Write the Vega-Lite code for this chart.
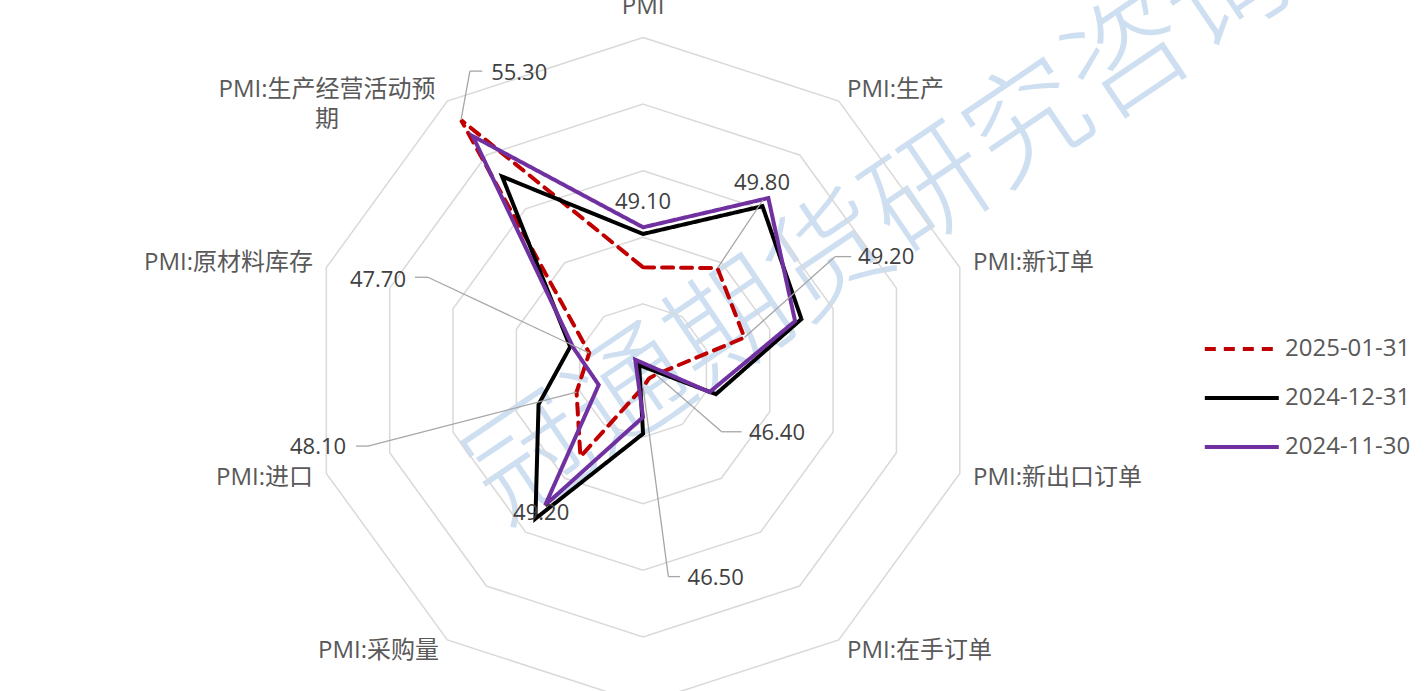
{
  "$schema": "https://vega.github.io/schema/vega-lite/v6.json",
  "width": 1425,
  "height": 691,
  "autosize": {"type": "none"},
  "padding": 0,
  "background": "white",
  "config": {"view": {"stroke": null}, "text": {"font": "Open Sans, Noto Sans CJK SC, sans-serif"}},
  "layer": [
    {
      "data": {"values": [{}]},
      "mark": {"type": "text", "text": "冠通期货研究咨询", "font": "Noto Sans CJK SC", "fontSize": 120, "fontWeight": 200, "angle": -34, "color": "#c2d8ee", "opacity": 0.8, "align": "center", "baseline": "middle", "clip": true},
      "encoding": {
        "x": {"datum": 7.15, "type": "quantitative", "scale": {"domain": [-19.31, 23.48], "nice": false, "zero": false}, "axis": null},
        "y": {"datum": 4.3, "type": "quantitative", "scale": {"domain": [-9.625, 11.126], "nice": false, "zero": false}, "axis": null}
      }
    },
    {
      "data": {"values": [
        {"level": 48, "spoke": [1, 2, 3, 4, 5, 6, 7, 8, 9, 10]},
        {"level": 50, "spoke": [1, 2, 3, 4, 5, 6, 7, 8, 9, 10]},
        {"level": 52, "spoke": [1, 2, 3, 4, 5, 6, 7, 8, 9, 10]},
        {"level": 54, "spoke": [1, 2, 3, 4, 5, 6, 7, 8, 9, 10]},
        {"level": 56, "spoke": [1, 2, 3, 4, 5, 6, 7, 8, 9, 10]}
      ]},
      "transform": [
        {"flatten": ["spoke"]},
        {"calculate": "(datum.spoke - 1) * PI / 5", "as": "theta"},
        {"calculate": "(datum.level - 46) * sin(datum.theta)", "as": "gx"},
        {"calculate": "(datum.level - 46) * cos(datum.theta)", "as": "gy"}
      ],
      "mark": {"type": "line", "interpolate": "linear-closed", "stroke": "#d9d9d9", "strokeWidth": 1.5},
      "encoding": {
        "x": {"field": "gx", "type": "quantitative", "scale": {"domain": [-19.31, 23.48], "nice": false, "zero": false}, "axis": null},
        "y": {"field": "gy", "type": "quantitative", "scale": {"domain": [-9.625, 11.126], "nice": false, "zero": false}, "axis": null},
        "detail": {"field": "level", "type": "nominal"},
        "order": {"field": "spoke", "type": "quantitative"}
      }
    },
    {
      "data": {"values": [
        {"axis": "PMI", "2025-01-31": 49.1, "2024-12-31": 50.1, "2024-11-30": 50.3},
        {"axis": "PMI:生产", "2025-01-31": 49.8, "2024-12-31": 52.1, "2024-11-30": 52.4},
        {"axis": "PMI:新订单", "2025-01-31": 49.2, "2024-12-31": 51.0, "2024-11-30": 50.8},
        {"axis": "PMI:新出口订单", "2025-01-31": 46.4, "2024-12-31": 48.3, "2024-11-30": 48.1},
        {"axis": "PMI:在手订单", "2025-01-31": 46.3, "2024-12-31": 45.8, "2024-11-30": 45.6},
        {"axis": "PMI:产成品库存", "2025-01-31": 46.5, "2024-12-31": 47.9, "2024-11-30": 47.4},
        {"axis": "PMI:采购量", "2025-01-31": 49.2, "2024-12-31": 51.5, "2024-11-30": 51.0},
        {"axis": "PMI:进口", "2025-01-31": 48.1, "2024-12-31": 49.3, "2024-11-30": 47.4},
        {"axis": "PMI:原材料库存", "2025-01-31": 47.7, "2024-12-31": 48.3, "2024-11-30": 48.2},
        {"axis": "PMI:生产经营活动预期", "2025-01-31": 55.3, "2024-12-31": 53.2, "2024-11-30": 54.7}
      ]},
      "transform": [
        {"window": [{"op": "row_number", "as": "k"}]},
        {"fold": ["2025-01-31", "2024-12-31", "2024-11-30"], "as": ["series", "value"]},
        {"calculate": "(datum.k - 1) * PI / 5", "as": "theta"},
        {"calculate": "(datum.value - 46) * sin(datum.theta)", "as": "x"},
        {"calculate": "(datum.value - 46) * cos(datum.theta)", "as": "y"}
      ],
      "layer": [
        {
          "encoding": {
            "x": {"field": "x", "type": "quantitative", "scale": {"domain": [-19.31, 23.48], "nice": false, "zero": false}, "axis": null},
            "y": {"field": "y", "type": "quantitative", "scale": {"domain": [-9.625, 11.126], "nice": false, "zero": false}, "axis": null},
            "order": {"field": "k", "type": "quantitative"},
            "color": {"field": "series", "type": "nominal", "scale": {"domain": ["2025-01-31", "2024-12-31", "2024-11-30"], "range": ["#c00000", "#000000", "#7030a0"]},
              "legend": {"orient": "none", "legendX": 1247, "legendY": 332, "title": null, "symbolType": "M-4,0H1", "symbolSize": 876, "symbolStrokeWidth": 4, "labelFontSize": 24, "labelColor": "#595959", "labelFont": "Open Sans", "labelOffset": 4, "rowPadding": 20, "padding": 0, "labelLimit": 300}},
            "strokeDash": {"field": "series", "type": "nominal", "scale": {"domain": ["2025-01-31", "2024-12-31", "2024-11-30"], "range": [[11, 8], [1, 0], [1, 0]]},
              "legend": {"orient": "none", "legendX": 1247, "legendY": 332, "title": null, "symbolType": "M-4,0H1", "symbolSize": 876, "symbolStrokeWidth": 4, "labelFontSize": 24, "labelColor": "#595959", "labelFont": "Open Sans", "labelOffset": 4, "rowPadding": 20, "padding": 0, "labelLimit": 300}}
          },
          "layer": [
            {"transform": [{"filter": "datum.series === '2025-01-31'"}], "mark": {"type": "line", "interpolate": "linear-closed", "strokeWidth": 4, "strokeCap": "round"}},
            {"transform": [{"filter": "datum.series === '2024-12-31'"}], "mark": {"type": "line", "interpolate": "linear-closed", "strokeWidth": 4}},
            {"transform": [{"filter": "datum.series === '2024-11-30'"}], "mark": {"type": "line", "interpolate": "linear-closed", "strokeWidth": 4}}
          ]
        },
        {
          "transform": [
            {"filter": "datum.series === '2025-01-31'"},
            {"calculate": "10.42 * sin(datum.theta)", "as": "lx"},
            {"calculate": "10.42 * cos(datum.theta)", "as": "ly"},
            {"calculate": "replace(datum.axis, '预期', '预\\n期')", "as": "lab"}
          ],
          "encoding": {
            "x": {"field": "lx", "type": "quantitative", "scale": {"domain": [-19.31, 23.48], "nice": false, "zero": false}, "axis": null},
            "y": {"field": "ly", "type": "quantitative", "scale": {"domain": [-9.625, 11.126], "nice": false, "zero": false}, "axis": null},
            "text": {"field": "lab", "type": "nominal"}
          },
          "layer": [
            {"transform": [{"filter": "datum.k >= 2 && datum.k <= 5"}], "mark": {"type": "text", "align": "left", "baseline": "middle", "fontSize": 24, "color": "#595959"}},
            {"transform": [{"filter": "datum.k >= 7 && datum.k <= 9"}], "mark": {"type": "text", "align": "right", "baseline": "middle", "fontSize": 24, "color": "#595959"}},
            {"transform": [{"filter": "datum.k === 1"}], "mark": {"type": "text", "align": "center", "baseline": "alphabetic", "dy": -10, "fontSize": 24, "color": "#595959"}},
            {"transform": [{"filter": "datum.k === 6"}], "mark": {"type": "text", "align": "center", "baseline": "top", "fontSize": 24, "color": "#595959"}},
            {"transform": [{"filter": "datum.k === 10"}], "mark": {"type": "text", "align": "center", "baseline": "middle", "dx": -112, "lineBreak": "\n", "lineHeight": 30, "fontSize": 24, "color": "#595959"}}
          ]
        },
        {
          "transform": [{"filter": "datum.series === '2025-01-31' && datum.k === 10"}],
          "layer": [
            {"mark": {"type": "rule", "color": "#a6a6a6", "strokeWidth": 1.3}, "encoding": {
              "x": {"field": "x", "type": "quantitative", "scale": {"domain": [-19.31, 23.48], "nice": false, "zero": false}, "axis": null},
              "y": {"field": "y", "type": "quantitative", "scale": {"domain": [-9.625, 11.126], "nice": false, "zero": false}, "axis": null},
              "x2": {"datum": -5.20}, "y2": {"datum": 8.99}}},
            {"mark": {"type": "rule", "color": "#a6a6a6", "strokeWidth": 1.3}, "encoding": {
              "x": {"datum": -5.20, "type": "quantitative", "scale": {"domain": [-19.31, 23.48], "nice": false, "zero": false}, "axis": null},
              "y": {"datum": 8.99, "type": "quantitative", "scale": {"domain": [-9.625, 11.126], "nice": false, "zero": false}, "axis": null},
              "x2": {"datum": -4.83}, "y2": {"datum": 8.99}}},
            {"mark": {"type": "text", "fontSize": 22, "color": "#404040", "align": "center", "baseline": "middle"}, "encoding": {
              "x": {"datum": -3.72, "type": "quantitative", "scale": {"domain": [-19.31, 23.48], "nice": false, "zero": false}, "axis": null},
              "y": {"datum": 8.93, "type": "quantitative", "scale": {"domain": [-9.625, 11.126], "nice": false, "zero": false}, "axis": null},
              "text": {"field": "value", "type": "quantitative", "format": ".2f"}}}
          ]
        },
        {
          "transform": [{"filter": "datum.series === '2025-01-31' && datum.k === 1"}],
          "mark": {"type": "text", "fontSize": 22, "color": "#404040", "align": "center", "baseline": "middle"},
          "encoding": {
            "x": {"datum": 0, "type": "quantitative", "scale": {"domain": [-19.31, 23.48], "nice": false, "zero": false}, "axis": null},
            "y": {"datum": 5.06, "type": "quantitative", "scale": {"domain": [-9.625, 11.126], "nice": false, "zero": false}, "axis": null},
            "text": {"field": "value", "type": "quantitative", "format": ".2f"}}
        },
        {
          "transform": [{"filter": "datum.series === '2025-01-31' && datum.k === 2"}],
          "layer": [
            {"mark": {"type": "rule", "color": "#a6a6a6", "strokeWidth": 1.3}, "encoding": {
              "x": {"field": "x", "type": "quantitative", "scale": {"domain": [-19.31, 23.48], "nice": false, "zero": false}, "axis": null},
              "y": {"field": "y", "type": "quantitative", "scale": {"domain": [-9.625, 11.126], "nice": false, "zero": false}, "axis": null},
              "x2": {"datum": 3.60}, "y2": {"datum": 5.12}}},
            {"mark": {"type": "text", "fontSize": 22, "color": "#404040", "align": "center", "baseline": "middle"}, "encoding": {
              "x": {"datum": 3.57, "type": "quantitative", "scale": {"domain": [-19.31, 23.48], "nice": false, "zero": false}, "axis": null},
              "y": {"datum": 5.63, "type": "quantitative", "scale": {"domain": [-9.625, 11.126], "nice": false, "zero": false}, "axis": null},
              "text": {"field": "value", "type": "quantitative", "format": ".2f"}}}
          ]
        },
        {
          "transform": [{"filter": "datum.series === '2025-01-31' && datum.k === 3"}],
          "layer": [
            {"mark": {"type": "rule", "color": "#a6a6a6", "strokeWidth": 1.3}, "encoding": {
              "x": {"field": "x", "type": "quantitative", "scale": {"domain": [-19.31, 23.48], "nice": false, "zero": false}, "axis": null},
              "y": {"field": "y", "type": "quantitative", "scale": {"domain": [-9.625, 11.126], "nice": false, "zero": false}, "axis": null},
              "x2": {"datum": 5.77}, "y2": {"datum": 3.42}}},
            {"mark": {"type": "rule", "color": "#a6a6a6", "strokeWidth": 1.3}, "encoding": {
              "x": {"datum": 5.77, "type": "quantitative", "scale": {"domain": [-19.31, 23.48], "nice": false, "zero": false}, "axis": null},
              "y": {"datum": 3.42, "type": "quantitative", "scale": {"domain": [-9.625, 11.126], "nice": false, "zero": false}, "axis": null},
              "x2": {"datum": 6.25}, "y2": {"datum": 3.42}}},
            {"mark": {"type": "text", "fontSize": 22, "color": "#404040", "align": "center", "baseline": "middle"}, "encoding": {
              "x": {"datum": 7.30, "type": "quantitative", "scale": {"domain": [-19.31, 23.48], "nice": false, "zero": false}, "axis": null},
              "y": {"datum": 3.41, "type": "quantitative", "scale": {"domain": [-9.625, 11.126], "nice": false, "zero": false}, "axis": null},
              "text": {"field": "value", "type": "quantitative", "format": ".2f"}}}
          ]
        },
        {
          "transform": [{"filter": "datum.series === '2025-01-31' && datum.k === 4"}],
          "layer": [
            {"mark": {"type": "rule", "color": "#a6a6a6", "strokeWidth": 1.3}, "encoding": {
              "x": {"field": "x", "type": "quantitative", "scale": {"domain": [-19.31, 23.48], "nice": false, "zero": false}, "axis": null},
              "y": {"field": "y", "type": "quantitative", "scale": {"domain": [-9.625, 11.126], "nice": false, "zero": false}, "axis": null},
              "x2": {"datum": 2.36}, "y2": {"datum": -1.84}}},
            {"mark": {"type": "rule", "color": "#a6a6a6", "strokeWidth": 1.3}, "encoding": {
              "x": {"datum": 2.36, "type": "quantitative", "scale": {"domain": [-19.31, 23.48], "nice": false, "zero": false}, "axis": null},
              "y": {"datum": -1.84, "type": "quantitative", "scale": {"domain": [-9.625, 11.126], "nice": false, "zero": false}, "axis": null},
              "x2": {"datum": 2.96}, "y2": {"datum": -1.84}}},
            {"mark": {"type": "text", "fontSize": 22, "color": "#404040", "align": "center", "baseline": "middle"}, "encoding": {
              "x": {"datum": 4.02, "type": "quantitative", "scale": {"domain": [-19.31, 23.48], "nice": false, "zero": false}, "axis": null},
              "y": {"datum": -1.88, "type": "quantitative", "scale": {"domain": [-9.625, 11.126], "nice": false, "zero": false}, "axis": null},
              "text": {"field": "value", "type": "quantitative", "format": ".2f"}}}
          ]
        },
        {
          "transform": [{"filter": "datum.series === '2025-01-31' && datum.k === 6"}],
          "layer": [
            {"mark": {"type": "rule", "color": "#a6a6a6", "strokeWidth": 1.3}, "encoding": {
              "x": {"field": "x", "type": "quantitative", "scale": {"domain": [-19.31, 23.48], "nice": false, "zero": false}, "axis": null},
              "y": {"field": "y", "type": "quantitative", "scale": {"domain": [-9.625, 11.126], "nice": false, "zero": false}, "axis": null},
              "x2": {"datum": 0.76}, "y2": {"datum": -6.19}}},
            {"mark": {"type": "rule", "color": "#a6a6a6", "strokeWidth": 1.3}, "encoding": {
              "x": {"datum": 0.76, "type": "quantitative", "scale": {"domain": [-19.31, 23.48], "nice": false, "zero": false}, "axis": null},
              "y": {"datum": -6.19, "type": "quantitative", "scale": {"domain": [-9.625, 11.126], "nice": false, "zero": false}, "axis": null},
              "x2": {"datum": 1.11}, "y2": {"datum": -6.19}}},
            {"mark": {"type": "text", "fontSize": 22, "color": "#404040", "align": "center", "baseline": "middle"}, "encoding": {
              "x": {"datum": 2.18, "type": "quantitative", "scale": {"domain": [-19.31, 23.48], "nice": false, "zero": false}, "axis": null},
              "y": {"datum": -6.24, "type": "quantitative", "scale": {"domain": [-9.625, 11.126], "nice": false, "zero": false}, "axis": null},
              "text": {"field": "value", "type": "quantitative", "format": ".2f"}}}
          ]
        },
        {
          "transform": [{"filter": "datum.series === '2025-01-31' && datum.k === 7"}],
          "mark": {"type": "text", "fontSize": 22, "color": "#404040", "align": "center", "baseline": "middle"},
          "encoding": {
            "x": {"datum": -3.06, "type": "quantitative", "scale": {"domain": [-19.31, 23.48], "nice": false, "zero": false}, "axis": null},
            "y": {"datum": -4.29, "type": "quantitative", "scale": {"domain": [-9.625, 11.126], "nice": false, "zero": false}, "axis": null},
            "text": {"field": "value", "type": "quantitative", "format": ".2f"}}
        },
        {
          "transform": [{"filter": "datum.series === '2025-01-31' && datum.k === 8"}],
          "layer": [
            {"mark": {"type": "rule", "color": "#a6a6a6", "strokeWidth": 1.3}, "encoding": {
              "x": {"field": "x", "type": "quantitative", "scale": {"domain": [-19.31, 23.48], "nice": false, "zero": false}, "axis": null},
              "y": {"field": "y", "type": "quantitative", "scale": {"domain": [-9.625, 11.126], "nice": false, "zero": false}, "axis": null},
              "x2": {"datum": -8.26}, "y2": {"datum": -2.27}}},
            {"mark": {"type": "rule", "color": "#a6a6a6", "strokeWidth": 1.3}, "encoding": {
              "x": {"datum": -8.26, "type": "quantitative", "scale": {"domain": [-19.31, 23.48], "nice": false, "zero": false}, "axis": null},
              "y": {"datum": -2.27, "type": "quantitative", "scale": {"domain": [-9.625, 11.126], "nice": false, "zero": false}, "axis": null},
              "x2": {"datum": -8.62}, "y2": {"datum": -2.27}}},
            {"mark": {"type": "text", "fontSize": 22, "color": "#404040", "align": "center", "baseline": "middle"}, "encoding": {
              "x": {"datum": -9.76, "type": "quantitative", "scale": {"domain": [-19.31, 23.48], "nice": false, "zero": false}, "axis": null},
              "y": {"datum": -2.30, "type": "quantitative", "scale": {"domain": [-9.625, 11.126], "nice": false, "zero": false}, "axis": null},
              "text": {"field": "value", "type": "quantitative", "format": ".2f"}}}
          ]
        },
        {
          "transform": [{"filter": "datum.series === '2025-01-31' && datum.k === 9"}],
          "layer": [
            {"mark": {"type": "rule", "color": "#a6a6a6", "strokeWidth": 1.3}, "encoding": {
              "x": {"field": "x", "type": "quantitative", "scale": {"domain": [-19.31, 23.48], "nice": false, "zero": false}, "axis": null},
              "y": {"field": "y", "type": "quantitative", "scale": {"domain": [-9.625, 11.126], "nice": false, "zero": false}, "axis": null},
              "x2": {"datum": -6.46}, "y2": {"datum": 2.80}}},
            {"mark": {"type": "rule", "color": "#a6a6a6", "strokeWidth": 1.3}, "encoding": {
              "x": {"datum": -6.46, "type": "quantitative", "scale": {"domain": [-19.31, 23.48], "nice": false, "zero": false}, "axis": null},
              "y": {"datum": 2.80, "type": "quantitative", "scale": {"domain": [-9.625, 11.126], "nice": false, "zero": false}, "axis": null},
              "x2": {"datum": -6.85}, "y2": {"datum": 2.80}}},
            {"mark": {"type": "text", "fontSize": 22, "color": "#404040", "align": "center", "baseline": "middle"}, "encoding": {
              "x": {"datum": -7.96, "type": "quantitative", "scale": {"domain": [-19.31, 23.48], "nice": false, "zero": false}, "axis": null},
              "y": {"datum": 2.72, "type": "quantitative", "scale": {"domain": [-9.625, 11.126], "nice": false, "zero": false}, "axis": null},
              "text": {"field": "value", "type": "quantitative", "format": ".2f"}}}
          ]
        }
      ]
    }
  ]
}
